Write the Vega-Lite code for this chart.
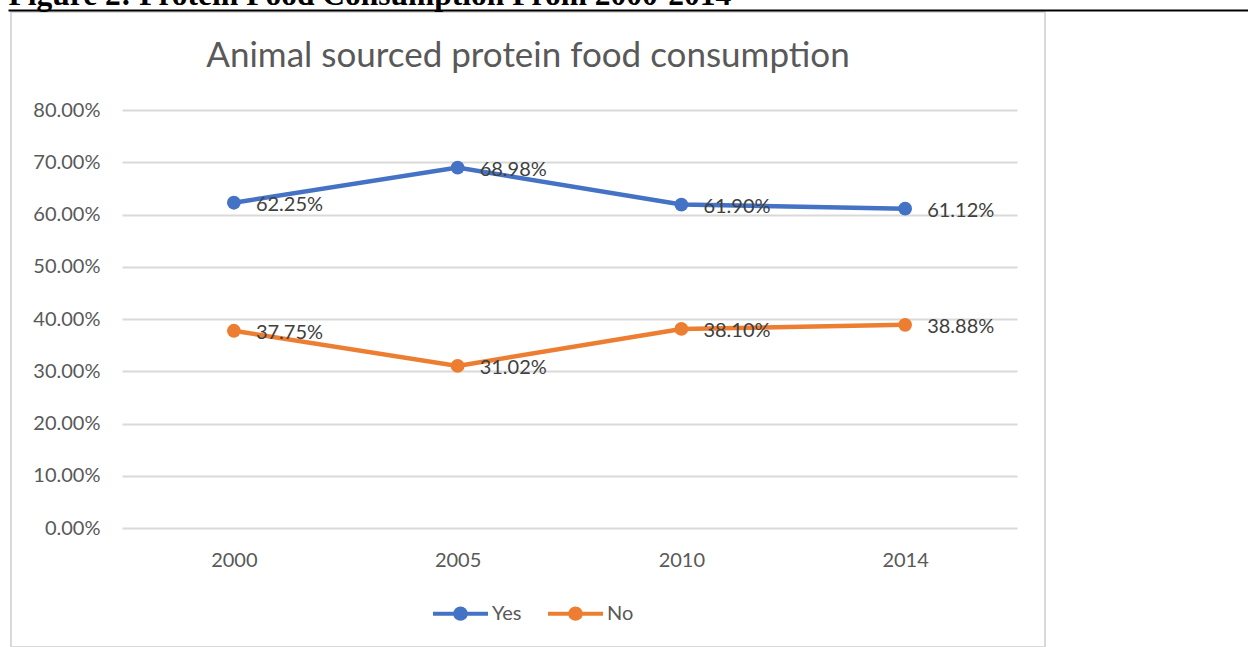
{
  "$schema": "https://vega.github.io/schema/vega-lite/v6.json",
  "width": 1034,
  "height": 635,
  "autosize": {"type": "none"},
  "padding": {"left": 11, "top": 12, "right": 203, "bottom": 0},
  "background": "white",
  "title": {
    "text": "Animal sourced protein food consumption",
    "font": "Lato",
    "fontSize": 35,
    "fontWeight": "normal",
    "color": "#595959",
    "anchor": "middle",
    "frame": "group",
    "offset": 0,
    "dy": 95
  },
  "data": {
    "values": [
      {"year": "2000", "answer": "Yes", "value": 0.6225},
      {"year": "2005", "answer": "Yes", "value": 0.6898},
      {"year": "2010", "answer": "Yes", "value": 0.6190},
      {"year": "2014", "answer": "Yes", "value": 0.6112},
      {"year": "2000", "answer": "No", "value": 0.3775},
      {"year": "2005", "answer": "No", "value": 0.3102},
      {"year": "2010", "answer": "No", "value": 0.3810},
      {"year": "2014", "answer": "No", "value": 0.3888}
    ]
  },
  "config": {
    "view": {"stroke": "#d9d9d9", "strokeWidth": 2},
    "font": "Lato"
  },
  "layer": [
    {
      "encoding": {
        "x": {
          "field": "year",
          "type": "ordinal",
          "scale": {"type": "point", "range": [111, 1006], "padding": 0.5},
          "axis": {
            "orient": "bottom",
            "offset": -119,
            "title": null,
            "domain": false,
            "ticks": false,
            "tickSize": 0,
            "grid": false,
            "labelAngle": 0,
            "labelFont": "Lato",
            "labelFontSize": 20,
            "labelColor": "#595959",
            "labelPadding": 22
          }
        },
        "y": {
          "field": "value",
          "type": "quantitative",
          "scale": {"domain": [0, 0.8], "range": [516, 98], "nice": false, "zero": false},
          "axis": {
            "orient": "left",
            "offset": -100,
            "title": null,
            "format": ".2%",
            "values": [0, 0.1, 0.2, 0.3, 0.4, 0.5, 0.6, 0.7, 0.8],
            "domain": false,
            "ticks": false,
            "tickSize": 0,
            "grid": true,
            "gridColor": "#d9d9d9",
            "gridWidth": 2,
            "labelFont": "Lato",
            "labelFontSize": 20,
            "labelColor": "#595959",
            "labelPadding": 11
          }
        }
      },
      "layer": [
        {
          "mark": {"type": "line", "strokeWidth": 4.5, "point": {"filled": true, "size": 190, "opacity": 1}},
          "encoding": {
            "color": {
              "field": "answer",
              "type": "nominal",
              "scale": {"domain": ["Yes", "No"], "range": ["#4472C4", "#ED7D31"]},
              "legend": {
                "orient": "none",
                "legendX": 420,
                "legendY": 572,
                "direction": "horizontal",
                "title": null,
                "padding": 0,
                "symbolType": "M-1,0H1M0.19,0A0.19,0.19,0,1,1,-0.19,0A0.19,0.19,0,1,1,0.19,0Z",
                "symbolSize": 3025,
                "symbolStrokeWidth": 4,
                "labelFont": "Lato",
                "labelFontSize": 20,
                "labelColor": "#595959",
                "labelOffset": 2,
                "columnPadding": 18,
                "encode": {
                  "symbols": {
                    "update": {
                      "fill": {"scale": "color", "field": "value"},
                      "stroke": {"scale": "color", "field": "value"},
                      "opacity": {"value": 1}
                    }
                  }
                }
              }
            }
          }
        },
        {
          "mark": {"type": "text", "align": "left", "baseline": "middle", "dx": 22, "dy": 2, "font": "Lato", "fontSize": 20, "color": "#404040"},
          "encoding": {
            "text": {"field": "value", "type": "quantitative", "format": ".2%"}
          }
        }
      ]
    },
    {
      "mark": {"type": "point", "opacity": 0},
      "encoding": {
        "x": {
          "field": "year",
          "type": "ordinal",
          "scale": {"type": "point", "range": [-3, 1237], "padding": 0},
          "axis": {
            "orient": "top",
            "offset": 2,
            "labels": false,
            "ticks": false,
            "grid": false,
            "domain": true,
            "domainColor": "#000000",
            "domainWidth": 2,
            "title": "Figure 2: Protein Food Consumption From 2000-2014",
            "titleFont": "Liberation Serif",
            "titleFontSize": 31.5,
            "titleFontWeight": "bold",
            "titleColor": "#000000",
            "titleAnchor": "start",
            "titleBaseline": "alphabetic",
            "titlePadding": 6
          }
        }
      }
    }
  ],
  "resolve": {"scale": {"x": "independent"}, "axis": {"x": "independent"}}
}
